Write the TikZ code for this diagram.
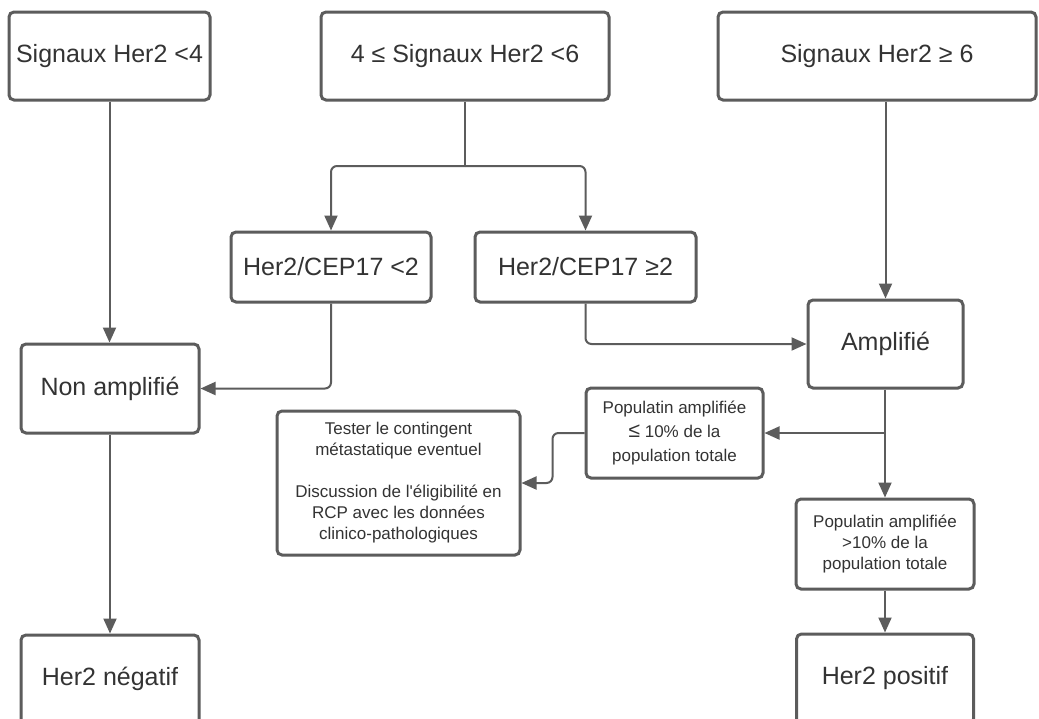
\documentclass[tikz,border=0pt]{standalone}
\usepackage{fontspec}
\newfontfamily\lsans{Liberation Sans}
\usetikzlibrary{arrows.meta}
\definecolor{ln}{HTML}{5C5C5C}
\definecolor{tx}{HTML}{333333}
\tikzset{
  box/.style={draw=ln, line width=3pt, rounded corners=5pt, fill=white, inner sep=0pt,
    text=tx, align=center, font=\lsans\fontsize{25}{29}\selectfont},
  small/.style={font=\lsans\fontsize{17}{21}\selectfont},
  conn/.style={draw=ln, line width=2pt, rounded corners=6pt},
  arr/.style={conn, -{Triangle[length=15pt,width=13pt]}}
}
\begin{document}
\begin{tikzpicture}[x=1pt,y=-1pt]
\clip (0,0) rectangle (1039,718);
\fill[white] (0,0) rectangle (1039,718);
% boxes
\node[box, minimum width=201pt, minimum height=88pt] (b1) at (109.5,56) {Signaux Her2 <4};
\node[box, minimum width=288pt, minimum height=88pt] (b2) at (465,56) {4 ≤ Signaux Her2 <6};
\node[box, minimum width=318pt, minimum height=88pt] (b3) at (877,56) {Signaux Her2 ≥ 6};
\node[box, minimum width=200pt, minimum height=70pt] (b4) at (331,267) {Her2/CEP17 <2};
\node[box, minimum width=221pt, minimum height=70pt] (b5) at (585.5,267) {Her2/CEP17 ≥2};
\node[box, minimum width=178pt, minimum height=89pt] (b6) at (110,388.5) {Non amplifié};
\node[box, minimum width=155pt, minimum height=88pt] (b7) at (885.5,344) {Amplifié};
\node[box, font=\lsans\fontsize{17}{24}\selectfont, minimum width=177pt, minimum height=90pt] (b8) at (674.5,433)
  {Populatin amplifiée\\ {\fontsize{21}{21}\selectfont ≤} 10\% de la\\ population totale};
\node[box, small, minimum width=243pt, minimum height=144pt] (b9) at (398.5,483)
  {Tester le contingent\\ métastatique eventuel\\ ~\\ Discussion de l'éligibilité en\\ RCP avec les données\\ clinico-pathologiques};
\node[box, small, minimum width=178pt, minimum height=90pt] (b10) at (885,544)
  {Populatin amplifiée\\ >10\% de la\\ population totale};
\node[box, minimum width=178pt, minimum height=90pt, text depth=8pt] (b11) at (110,680) {Her2 négatif};
\node[box, minimum width=177pt, minimum height=90pt, text depth=8pt] (b12) at (885,679) {Her2 positif};
% junctions
\coordinate (s) at (465,166);
\coordinate (j) at (885,433);
% connectors
\draw[arr] (b1.south) -- (b1.south |- b6.north);
\draw[conn] (b2.south) -- (s);
\draw[arr] (s) -| (b4.north);
\draw[arr] (s) -| (b5.north);
\draw[arr] (b7.north |- b3.south) -- (b7.north);
\draw[arr] (b4.south) |- (b6.east);
\draw[arr] (b5.south) |- (b7.west);
\draw[arr] (j |- b7.south) -- (b10.north);
\draw[arr] (j) -- (b8.east);
\draw[arr] (b8.west) -- ++(-32,0) |- (b9.east);
\draw[arr] (b6.south) -- (b11.north);
\draw[arr] (b10.south) -- (b12.north);
\end{tikzpicture}
\end{document}
